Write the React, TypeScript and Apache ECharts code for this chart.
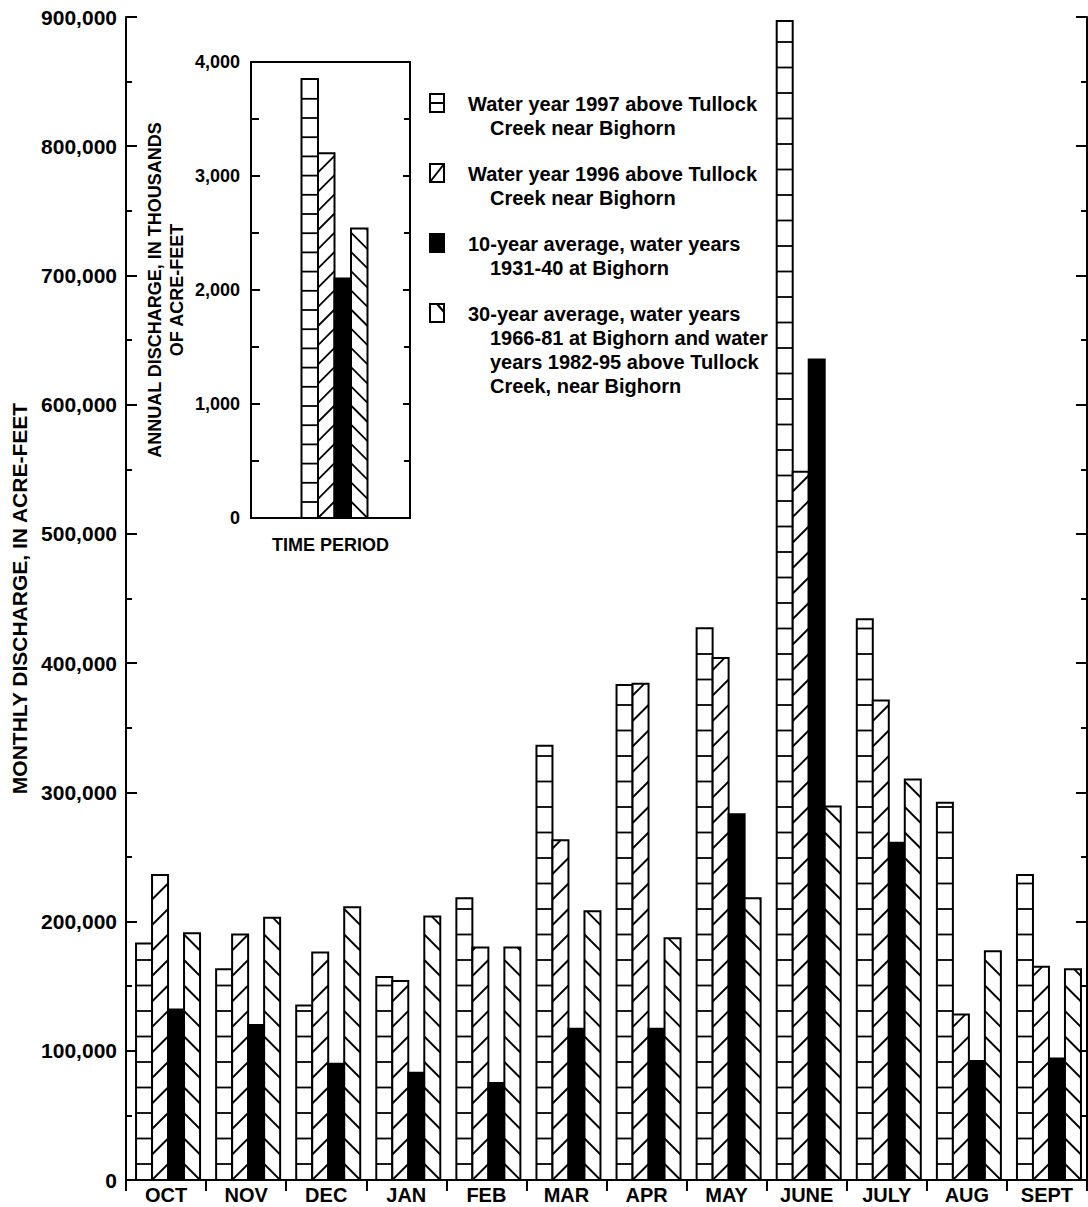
import React, { useEffect, useRef } from "react";
import * as echarts from "echarts";

// ---------- data ----------
const months = ["OCT", "NOV", "DEC", "JAN", "FEB", "MAR", "APR", "MAY", "JUNE", "JULY", "AUG", "SEPT"];
const wy1997 = [183000, 163000, 135000, 157000, 218000, 336000, 383000, 427000, 897000, 434000, 292000, 236000];
const wy1996 = [236000, 190000, 176000, 154000, 180000, 263000, 384000, 404000, 548000, 371000, 128000, 165000];
const avg10yr = [132000, 120000, 90000, 83000, 75000, 117000, 117000, 283000, 635000, 261000, 92000, 94000];
const avg30yr = [191000, 203000, 211000, 204000, 180000, 208000, 187000, 218000, 289000, 310000, 177000, 163000];

const annualCategories = [""];
const annual1997 = [3850];
const annual1996 = [3200];
const annual10yr = [2100];
const annual30yr = [2540];

const seriesNames = [
  "Water year 1997 above Tullock Creek near Bighorn",
  "Water year 1996 above Tullock Creek near Bighorn",
  "10-year average, water years 1931-40 at Bighorn",
  "30-year average, water years 1966-81 at Bighorn and water years 1982-95 above Tullock Creek, near Bighorn",
];
const legendLines = [
  ["Water year 1997 above Tullock", "Creek near Bighorn"],
  ["Water year 1996 above Tullock", "Creek near Bighorn"],
  ["10-year average, water years", "1931-40 at Bighorn"],
  ["30-year average, water years", "1966-81 at Bighorn and water", "years 1982-95 above Tullock", "Creek, near Bighorn"],
];

const mainYTitle = "MONTHLY DISCHARGE, IN ACRE-FEET";
const insetYTitle = "ANNUAL DISCHARGE, IN THOUSANDS\nOF ACRE-FEET";
const insetXTitle = "TIME PERIOD";

// ---------- styles ----------
const FONT = '"Liberation Sans", Arial, Helvetica, sans-serif';
const BLACK = "#000";
type Kind = "h" | "fs" | "solid" | "bs";
const kinds: Kind[] = ["h", "fs", "solid", "bs"];

function fmt(v: number) {
  return String(Math.round(v)).replace(/\B(?=(\d{3})+(?!\d))/g, ",");
}

function hatchSegments(kind: Kind, xL: number, xR: number, yT: number, yB: number, spacing: number, phase: number, s: number) {
  const segs: { x1: number; y1: number; x2: number; y2: number }[] = [];
  const w = xR - xL;
  if (yB - yT < 1) return segs;
  if (kind === "h") {
    for (let y = yB - phase; y > yT + 1.5; y -= spacing) segs.push({ x1: xL, y1: y, x2: xR, y2: y });
    return segs;
  }
  const kMin = -Math.ceil((s * w) / spacing) - 1;
  const kMax = Math.ceil((yB - yT) / spacing) + 1;
  for (let k = kMin; k <= kMax; k++) {
    if (kind === "fs") {
      const yl = yB - k * spacing;
      const a = Math.max(xL, xL + (yl - yB) / s);
      const b = Math.min(xR, xL + (yl - yT) / s);
      if (b - a > 0.8) segs.push({ x1: a, y1: yl - s * (a - xL), x2: b, y2: yl - s * (b - xL) });
    } else if (kind === "bs") {
      const yl = yB - s * w - k * spacing;
      const a = Math.max(xL, xL + (yT - yl) / s);
      const b = Math.min(xR, xL + (yB - yl) / s);
      if (b - a > 0.8) segs.push({ x1: a, y1: yl + s * (a - xL), x2: b, y2: yl + s * (b - xL) });
    }
  }
  return segs;
}

function makeRenderItem(kind: Kind, slot: number, barW: number, offset: number, spacing: number, phase: number) {
  return (_params: any, api: any) => {
    const i = api.value(0);
    const v = api.value(1);
    const p0 = api.coord([i, 0]);
    const p1 = api.coord([i, v]);
    const xL = p0[0] + offset + (slot - 2) * barW;
    const xR = xL + barW;
    const yB = p0[1];
    const yT = p1[1];
    const children: any[] = [
      {
        type: "rect",
        shape: { x: xL, y: yT, width: barW, height: yB - yT },
        style: { fill: kind === "solid" ? BLACK : "#fff", stroke: BLACK, lineWidth: 2 },
      },
    ];
    if (kind !== "solid") {
      hatchSegments(kind, xL, xR, yT, yB, spacing, phase, 1).forEach((sg) =>
        children.push({ type: "line", shape: sg, style: { stroke: BLACK, lineWidth: 1.8 } })
      );
    }
    return { type: "group", children };
  };
}

const axisLine = { show: true, lineStyle: { color: BLACK, width: 2 } };

function App() {
  const ref = useRef<HTMLDivElement>(null);
  useEffect(() => {
    if (!ref.current) return;
    const chart = echarts.init(ref.current, null, { renderer: "svg" });

    const mainSeriesData = [wy1997, wy1996, avg10yr, avg30yr];
    const insetSeriesData = [annual1997, annual1996, annual10yr, annual30yr];

    const series: any[] = [];
    mainSeriesData.forEach((arr, s) => {
      series.push({
        type: "custom",
        name: seriesNames[s],
        xAxisIndex: 0,
        yAxisIndex: 0,
        clip: false,
        encode: { x: 0, y: 1 },
        data: arr.map((v, i) => [i, v]),
        renderItem: makeRenderItem(kinds[s], s, 16, 2, 25.5, 16),
      });
    });
    insetSeriesData.forEach((arr, s) => {
      series.push({
        type: "custom",
        name: seriesNames[s] + " (annual)",
        xAxisIndex: 2,
        yAxisIndex: 2,
        clip: false,
        encode: { x: 0, y: 1 },
        data: arr.map((v, i) => [i, v]),
        renderItem: makeRenderItem(kinds[s], s, 16.5, 4, 19.2, 16),
      });
    });

    // legend drawn as graphic (icons aligned with the first text line)
    const graphic: any[] = [];
    const legendTop = 104;
    const blockStep = 70;
    const lineStep = 24;
    legendLines.forEach((lines, b) => {
      const cy = legendTop + b * blockStep;
      const ix = 430, iw = 14, ih = 18, iy = cy - 1 - ih / 2;
      graphic.push({
        type: "rect",
        shape: { x: ix, y: iy, width: iw, height: ih },
        style: { fill: kinds[b] === "solid" ? BLACK : "#fff", stroke: BLACK, lineWidth: 2 },
      });
      if (kinds[b] === "h") {
        graphic.push({ type: "line", shape: { x1: ix, y1: iy + ih / 2, x2: ix + iw, y2: iy + ih / 2 }, style: { stroke: BLACK, lineWidth: 2 } });
      } else if (kinds[b] === "fs") {
        graphic.push({ type: "line", shape: { x1: ix, y1: iy + ih, x2: ix + iw, y2: iy }, style: { stroke: BLACK, lineWidth: 2 } });
      } else if (kinds[b] === "bs") {
        graphic.push({ type: "line", shape: { x1: ix + 7, y1: iy, x2: ix + iw, y2: iy + 8 }, style: { stroke: BLACK, lineWidth: 2 } });
      }
      lines.forEach((t, li) => {
        graphic.push({
          type: "text",
          x: li === 0 ? 468 : 490,
          y: cy + li * lineStep,
          style: {
            text: t,
            fill: BLACK,
            font: `bold 20px ${FONT}`,
            verticalAlign: "middle",
            textVerticalAlign: "middle",
            align: "left",
          },
        });
      });
    });

    const tickStyle = { color: BLACK, width: 2 };

    const option: any = {
      animation: false,
      backgroundColor: "#fff",
      textStyle: { fontFamily: FONT },
      grid: [
        { left: 126, right: 1, top: 17, bottom: 27, outerBoundsMode: "none" },
        { left: 251, right: 1088 - 410, top: 62, bottom: 1207 - 518, show: true, borderColor: BLACK, borderWidth: 2, backgroundColor: "transparent", outerBoundsMode: "none" },
      ],
      xAxis: [
        {
          gridIndex: 0,
          type: "category",
          data: months,
          position: "bottom",
          axisLine,
          axisTick: { show: false },
          splitLine: { show: false },
          axisLabel: { color: BLACK, fontSize: 20, fontWeight: "bold", fontFamily: FONT, margin: 5, interval: 0 },
        },
        {
          gridIndex: 0,
          type: "category",
          data: months,
          position: "top",
          axisLine,
          axisTick: { show: true, inside: true, length: 11, lineStyle: tickStyle },
          axisLabel: { show: false },
          splitLine: { show: false },
        },
        {
          gridIndex: 1,
          type: "category",
          data: annualCategories,
          position: "bottom",
          axisLine,
          axisTick: { show: false },
          axisLabel: { show: false },
          splitLine: { show: false },
          name: insetXTitle,
          nameLocation: "middle",
          nameGap: 18,
          nameTextStyle: { color: BLACK, fontSize: 18, fontWeight: "bold", fontFamily: FONT },
        },
      ],
      yAxis: [
        {
          gridIndex: 0,
          type: "value",
          min: 0,
          max: 900000,
          interval: 100000,
          position: "left",
          axisLine,
          axisTick: { show: true, inside: true, length: 11, lineStyle: tickStyle },
          minorTick: { show: true, splitNumber: 2, length: 6, lineStyle: tickStyle },
          splitLine: { show: false },
          axisLabel: { color: BLACK, fontSize: 21, fontWeight: "bold", fontFamily: FONT, margin: 9, formatter: (v: number) => fmt(v) },
          name: mainYTitle,
          nameLocation: "middle",
          nameRotate: 90,
          nameGap: 93,
          nameTextStyle: { color: BLACK, fontSize: 21, fontWeight: "bold", fontFamily: FONT },
        },
        {
          gridIndex: 0,
          type: "value",
          min: 0,
          max: 900000,
          interval: 100000,
          position: "right",
          axisLine,
          axisTick: { show: true, inside: true, length: 11, lineStyle: tickStyle },
          minorTick: { show: true, splitNumber: 2, length: 6, lineStyle: tickStyle },
          splitLine: { show: false },
          axisLabel: { show: false },
        },
        {
          gridIndex: 1,
          type: "value",
          min: 0,
          max: 4000,
          interval: 1000,
          position: "left",
          axisLine,
          axisTick: { show: true, inside: true, length: 9, lineStyle: tickStyle },
          minorTick: { show: true, splitNumber: 2, length: 8, lineStyle: tickStyle },
          splitLine: { show: false },
          axisLabel: { color: BLACK, fontSize: 18, fontWeight: "bold", fontFamily: FONT, margin: 11, formatter: (v: number) => fmt(v) },
          name: insetYTitle,
          nameLocation: "middle",
          nameRotate: 90,
          nameGap: 63,
          nameTextStyle: { color: BLACK, fontSize: 18, fontWeight: "bold", fontFamily: FONT, lineHeight: 22, align: "center" },
        },
        {
          gridIndex: 1,
          type: "value",
          min: 0,
          max: 4000,
          interval: 1000,
          position: "right",
          axisLine,
          axisTick: { show: true, inside: true, length: 7, lineStyle: tickStyle },
          minorTick: { show: true, splitNumber: 2, length: 6, lineStyle: tickStyle },
          splitLine: { show: false },
          axisLabel: { show: false },
        },
      ],
      series,
      graphic,
    };
    chart.setOption(option);
    return () => chart.dispose();
  }, []);
  return <div ref={ref} style={{ position: "absolute", left: 0, top: 0, width: 1088, height: 1207 }} />;
}

export default App;
